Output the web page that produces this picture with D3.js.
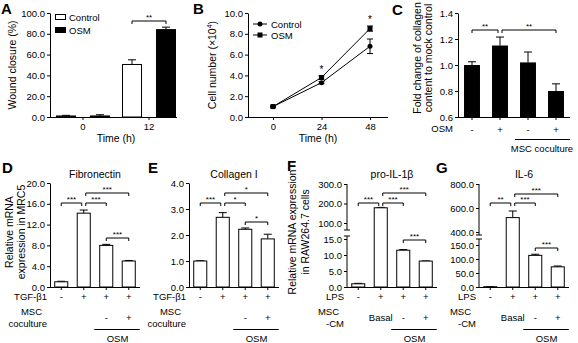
<!DOCTYPE html>
<html lang="en">
<head>
<meta charset="UTF-8">
<title>OSM and MSC panels</title>
<script src="https://d3js.org/d3.v7.min.js"></script>
<style>
  body { margin: 0; background: #fff; }
  svg text { font-family: "Liberation Sans", Arial, sans-serif; fill: #000; }
  .domain, .tick line { stroke: #000; }
</style>
</head>
<body>
<svg id="fig" width="578" height="343"></svg>
<script>
// ---- data ----
// A: wound closure
const woundTimes = ["0", "12"];
const woundGroups = ["Control", "OSM"];
const woundControl = [1.0, 50.5];
const woundControlErr = [0.6, 4.5];
const woundOSM = [1.0, 84.0];
const woundOSMErr = [1.2, 2.4];
const woundTicks = [0, 20, 40, 60, 80, 100];

// B: cell number
const growthTimes = [0, 24, 48];
const growthControl = [1.0, 3.3, 6.8];
const growthControlErr = [0.05, 0.1, 0.7];
const growthOSM = [1.0, 3.8, 8.5];
const growthOSMErr = [0.05, 0.15, 0.25];
const growthStars = ["", "*", "*"];
const growthTicks = [0, 2, 4, 6, 8, 10];

// C: collagen content
const collagenOSM = ["-", "+", "-", "+"];
const collagenFold = [1.00, 1.15, 1.02, 0.80];
const collagenFoldErr = [0.025, 0.065, 0.08, 0.055];
const collagenTicks = [0.6, 0.8, 1.0, 1.2, 1.4];
const collagenSig = [[0, 1, "**"], [1, 3, "**"]];

// D-G: mRNA expression
const fibronectin = [1.0, 14.2, 8.0, 5.0];
const fibronectinErr = [0.1, 0.6, 0.2, 0.1];
const fibronectinTicks = [0, 4, 8, 12, 16, 20];
const collagenI = [1.0, 2.68, 2.22, 1.85];
const collagenIErr = [0.01, 0.18, 0.05, 0.18];
const collagenITicks = [0, 1, 2, 3, 4];
const il1b = [1.0, 178, 11.5, 8.1];
const il1bErr = [0.15, 2, 0.2, 0.05];
const il1bLowTicks = [0, 5, 10, 15];
const il1bHighTicks = [100, 200, 300];
const il6 = [1.0, 520, 113, 72];
const il6Err = [0.3, 55, 4, 3];
const il6LowTicks = [0, 50, 100, 150];
const il6HighTicks = [400, 600, 800];

const sigPairs = [[0, 1], [1, 2], [1, 3], [2, 3]];
const fibronectinSig = ["***", "***", "***", "***"];
const collagenISig = ["***", "*", "*", "*"];
const il1bSig = ["***", "***", "***", "***"];
const il6Sig = ["**", "***", "***", "***"];

const tgfRow = ["-", "+", "+", "+"];
const mscRow = ["", "", "-", "+"];
const lpsRow = ["-", "+", "+", "+"];
const cmRow = ["", "Basal", "-", "+"];

// ---- helpers ----
const svg = d3.select("#fig");
const FS = 9.5;

function txt(x, y, s, anchor = "middle", size = FS, weight = null) {
  return svg.append("text").attr("x", x).attr("y", y)
    .attr("text-anchor", anchor).attr("font-size", size)
    .attr("font-weight", weight).text(s);
}

function yLabel(xs, yc, lines, size = 10.5) {
  return lines.map((s, i) => svg.append("text")
    .attr("transform", `translate(${xs[i]},${yc}) rotate(-90)`)
    .attr("text-anchor", "middle").attr("font-size", size).text(s));
}

function leftAxis(scale, x, ticks, fmt) {
  const g = svg.append("g").attr("transform", `translate(${x},0)`)
    .call(d3.axisLeft(scale).tickValues(ticks).tickFormat(d3.format(fmt))
      .tickSize(3).tickSizeOuter(0).tickPadding(2));
  g.attr("font-family", null).attr("font-size", FS);
  return g;
}

function bottomAxis(scale, y, x0, x1, ticks, fmt) {
  const g = svg.append("g").attr("transform", `translate(0,${y})`)
    .call(d3.axisBottom(scale).tickValues(ticks).tickFormat(fmt)
      .tickSize(3).tickSizeOuter(0).tickPadding(3));
  g.attr("font-family", null).attr("font-size", FS);
  g.select(".domain").attr("d", `M${x0},0.5H${x1}`);
  return g;
}

function errBar(x, yTop, yEnd, cap) {
  svg.append("path")
    .attr("d", `M${x},${yTop}V${yEnd}M${x - cap / 2},${yEnd}H${x + cap / 2}`)
    .attr("stroke", "#000").attr("fill", "none");
}

function bracket(x1, x2, y, label, size = 8) {
  svg.append("path").attr("d", `M${x1},${y + 3}V${y}H${x2}V${y + 3}`)
    .attr("stroke", "#000").attr("fill", "none");
  txt((x1 + x2) / 2, y - 1.5, label, "middle", size);
}

// ---- A ----
txt(1, 14, "A", "start", 15, "bold");
const yA = d3.scaleLinear().domain([0, 100]).range([117, 13]);
const xA = d3.scaleBand().domain(woundTimes).range([50, 182]);
const xAsub = d3.scaleBand().domain(woundGroups).range([-26.5, 26.5]).paddingInner(0.44);
leftAxis(yA, 50, woundTicks, ".1f");
bottomAxis(xA, 117, 50, 177, woundTimes, d => d);
[[woundControl, woundControlErr, "Control", "#fff"], [woundOSM, woundOSMErr, "OSM", "#000"]]
  .forEach(([vals, errs, grp, fill]) => {
    woundTimes.forEach((t, i) => {
      const x = xA(t) + xA.bandwidth() / 2 + xAsub(grp);
      errBar(x + xAsub.bandwidth() / 2, yA(vals[i]), yA(vals[i] + errs[i]), 8);
      svg.append("rect").attr("x", x).attr("y", yA(vals[i]))
        .attr("width", xAsub.bandwidth()).attr("height", yA(0) - yA(vals[i]))
        .attr("fill", fill).attr("stroke", "#000");
    });
  });
{
  const c = xA("12") + xA.bandwidth() / 2;
  bracket(c + xAsub("Control") + xAsub.bandwidth() / 2, c + xAsub("OSM") + xAsub.bandwidth() / 2, 21, "**");
}
woundGroups.forEach((g, i) => {
  svg.append("rect").attr("x", 55.5).attr("y", 14.5 + i * 13).attr("width", 10).attr("height", 5)
    .attr("fill", i ? "#000" : "#fff").attr("stroke", "#000");
  txt(69, 21 + i * 13, g, "start");
});
yLabel([16], 65, ["Wound closure (%)"]);
txt(116, 142, "Time (h)", "middle", 10.5);

// ---- B ----
txt(193, 14, "B", "start", 15, "bold");
const yB = d3.scaleLinear().domain([0, 10]).range([117, 13]);
const xB = d3.scaleLinear().domain([0, 48]).range([273, 370]);
leftAxis(yB, 248, growthTicks, ".1f");
bottomAxis(xB, 117, 248, 388, growthTimes, d3.format("d"));
const line = d3.line().x((d, i) => xB(growthTimes[i])).y(d => yB(d));
[[growthControl, growthControlErr, "circle"], [growthOSM, growthOSMErr, "square"]]
  .forEach(([vals, errs, shape]) => {
    svg.append("path").datum(vals).attr("d", line).attr("fill", "none").attr("stroke", "#000");
    vals.forEach((v, i) => {
      const x = xB(growthTimes[i]);
      svg.append("path").attr("stroke", "#000").attr("fill", "none")
        .attr("d", `M${x},${yB(v - errs[i])}V${yB(v + errs[i])}M${x - 3},${yB(v - errs[i])}H${x + 3}M${x - 3},${yB(v + errs[i])}H${x + 3}`);
      if (shape === "circle") svg.append("circle").attr("cx", x).attr("cy", yB(v)).attr("r", 2.5);
      else svg.append("rect").attr("x", x - 2.5).attr("y", yB(v) - 2.5).attr("width", 5).attr("height", 5);
    });
  });
growthStars.forEach((s, i) => {
  if (!s) return;
  const top = d3.max([growthControl[i] + growthControlErr[i], growthOSM[i] + growthOSMErr[i]]);
  txt(xB(growthTimes[i]), yB(top) - 3, s, "middle", 10);
});
["Control", "OSM"].forEach((g, i) => {
  const y = 24 + i * 11;
  svg.append("path").attr("d", `M253,${y}H267`).attr("stroke", "#000");
  if (i === 0) svg.append("circle").attr("cx", 260).attr("cy", y).attr("r", 2.5);
  else svg.append("rect").attr("x", 257.5).attr("y", y - 2.5).attr("width", 5).attr("height", 5);
  txt(271, y + 3.5, g, "start");
});
{
  const t = yLabel([216], 65, ["Cell number (\u00d710"])[0];
  t.append("tspan").attr("dy", -4).attr("font-size", 7).text("4");
  t.append("tspan").attr("dy", 4).text(")");
}
txt(318, 142, "Time (h)", "middle", 10.5);

// ---- C ----
txt(392, 15, "C", "start", 15, "bold");
const yC = d3.scaleLinear().domain([0.6, 1.4]).range([117, 13]);
const xC = d3.scaleBand().domain(d3.range(4)).range([458, 570]).paddingInner(0.43).paddingOuter(0.215);
leftAxis(yC, 458, collagenTicks, ".1f");
bottomAxis(xC, 117, 458, 570, d3.range(4), i => collagenOSM[i]).selectAll("text").attr("dy", "1.1em");
const cc = i => xC(i) + xC.bandwidth() / 2;
collagenFold.forEach((v, i) => {
  svg.append("rect").attr("x", xC(i)).attr("y", yC(v)).attr("width", xC.bandwidth())
    .attr("height", yC(0.6) - yC(v)).attr("fill", "#000");
  errBar(cc(i), yC(v), yC(v + collagenFoldErr[i]), 8);
});
collagenSig.forEach(([a, b, s]) => bracket(cc(a) + (a === 1 ? 2 : 0), cc(b) - (b === 1 ? 2 : 0), 30, s));
txt(453, 131.5, "OSM", "end");
svg.append("path").attr("d", `M${cc(2) - 13},139.5H${cc(3) + 14}`).attr("stroke", "#000");
txt((cc(2) + cc(3)) / 2, 152, "MSC coculture");
yLabel([421, 432], 58, ["Fold change of collagen", "content to mock control"]);

// ---- D-G ----
function expressionPanel(p) {
  const base = 287;
  const x = d3.scaleBand().domain(d3.range(4)).range([p.x0, p.x0 + 90]).paddingInner(0.42).paddingOuter(0.21);
  const cx = i => x(i) + x.bandwidth() / 2;
  let y;
  if (p.upper) {
    const lo = d3.scaleLinear().domain(p.lowDomain).range([base, p.lowTopTick]);
    const hi = d3.scaleLinear().domain(p.highDomain).range(p.highRange);
    y = v => v <= p.lowDomain[1] ? lo(v) : hi(v);
    const gl = leftAxis(lo, p.x0, p.lowTicks, ".1f");
    gl.select(".domain").attr("d", `M0,${base}V${p.breakLow}M-3,${p.breakLow}H3`);
    const gh = leftAxis(hi, p.x0, p.highTicks, ".1f");
    gh.select(".domain").attr("d", `M0,${p.highRange[1]}V${p.breakHigh}M-3,${p.breakHigh}H3`);
  } else {
    y = d3.scaleLinear().domain(p.domain).range([base, 183]);
    leftAxis(y, p.x0, p.ticks, ".1f");
  }
  bottomAxis(x, base, p.x0, p.x0 + 90, d3.range(4), "");
  p.values.forEach((v, i) => {
    errBar(cx(i), y(v), y(v + p.errs[i]), 8);
    svg.append("rect").attr("x", x(i)).attr("y", y(v)).attr("width", x.bandwidth())
      .attr("height", base - y(v)).attr("fill", "#fff").attr("stroke", "#000");
  });
  sigPairs.forEach(([a, b], k) =>
    bracket(cx(a) + (a === 1 ? 2 : 0), cx(b) - (b === 1 ? 2 : 0), p.bracketY[k], p.sig[k]));
  txt(p.letter[0], p.letter[1], p.name, "start", 15, "bold");
  txt(p.x0 + 45, 178, p.title, "middle", 10.5);
  const lx = p.x0 - 3;
  txt(lx, 300, p.row1Label, "end");
  p.row1.forEach((s, i) => txt(cx(i), 300, s));
  txt(lx - 5, 315, p.row2Label[0], "end");
  txt(lx, 327, p.row2Label[1], "end");
  p.row2.forEach((s, i) => txt(cx(i), 321, s));
  svg.append("path").attr("d", `M${cx(2) - 12},329.5H${cx(3) + 11}`).attr("stroke", "#000");
  txt((cx(2) + cx(3)) / 2, 342, "OSM");
  if (p.ylab) yLabel(p.ylabX, p.ylabY, p.ylab);
}

expressionPanel({
  name: "D", letter: [2, 173], title: "Fibronectin", x0: 50,
  values: fibronectin, errs: fibronectinErr, domain: [0, 20], ticks: fibronectinTicks,
  sig: fibronectinSig, bracketY: [203, 203, 193, 238],
  row1Label: "TGF-\u03b21", row1: tgfRow, row2Label: ["MSC", "coculture"], row2: mscRow,
  ylab: ["Relative mRNA", "expression in MRC5"], ylabX: [13, 25], ylabY: 232
});
expressionPanel({
  name: "E", letter: [148, 173], title: "Collagen I", x0: 189,
  values: collagenI, errs: collagenIErr, domain: [0, 4], ticks: collagenITicks,
  sig: collagenISig, bracketY: [203, 203, 193, 222],
  row1Label: "TGF-\u03b21", row1: tgfRow, row2Label: ["MSC", "coculture"], row2: mscRow
});
expressionPanel({
  name: "F", letter: [287, 171], title: "pro-IL-1\u03b2", x0: 347,
  values: il1b, errs: il1bErr, upper: true,
  lowDomain: [0, 15], lowTopTick: 239, lowTicks: il1bLowTicks, breakLow: 236,
  highDomain: [100, 300], highRange: [223, 184], highTicks: il1bHighTicks, breakHigh: 230,
  sig: il1bSig, bracketY: [203, 203, 193, 240],
  row1Label: "LPS", row1: lpsRow, row2Label: ["MSC", "-CM"], row2: cmRow,
  ylab: ["Relative mRNA expression", "in RAW264.7 cells"], ylabX: [296, 309], ylabY: 232
});
expressionPanel({
  name: "G", letter: [436, 173], title: "IL-6", x0: 479,
  values: il6, errs: il6Err, upper: true,
  lowDomain: [0, 150], lowTopTick: 245, lowTicks: il6LowTicks, breakLow: 239,
  highDomain: [400, 800], highRange: [232, 184], highTicks: il6HighTicks, breakHigh: 235,
  sig: il6Sig, bracketY: [203, 203, 194, 248],
  row1Label: "LPS", row1: lpsRow, row2Label: ["MSC", "-CM"], row2: cmRow
});
</script>
</body>
</html>
